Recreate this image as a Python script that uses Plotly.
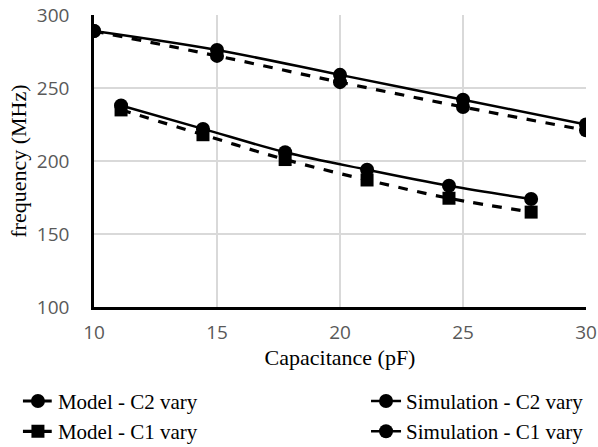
import plotly.graph_objects as go

c2_x = [10, 15, 20, 25, 30]
model_c2 = [289, 272, 254, 237, 221]
sim_c2 = [289, 276, 259, 242, 225]

c1_x = [11.1, 14.43, 17.77, 21.1, 24.43, 27.77]
model_c1 = [235, 218, 201, 187, 174.5, 165]
sim_c1 = [238, 222, 206, 194, 183, 174]

x_ticks = [10, 15, 20, 25, 30]
y_ticks = [100, 150, 200, 250, 300]

serif = "Liberation Serif"
sans = "Open Sans"

fig = go.Figure()
fig.add_trace(go.Scatter(x=c2_x, y=model_c2, name="Model - C2 vary", mode="lines+markers",
                         line=dict(color="black", width=3.2, dash="dash", shape="spline"),
                         marker=dict(symbol="circle", size=14, color="black"), legend="legend"))
fig.add_trace(go.Scatter(x=c1_x, y=model_c1, name="Model - C1 vary", mode="lines+markers",
                         line=dict(color="black", width=3.2, dash="dash", shape="spline"),
                         marker=dict(symbol="square", size=13, color="black"), legend="legend"))
fig.add_trace(go.Scatter(x=c2_x, y=sim_c2, name="Simulation - C2 vary", mode="lines+markers",
                         line=dict(color="black", width=2.5, shape="spline"),
                         marker=dict(symbol="circle", size=14, color="black"), legend="legend2"))
fig.add_trace(go.Scatter(x=c1_x, y=sim_c1, name="Simulation - C1 vary", mode="lines+markers",
                         line=dict(color="black", width=2.5, shape="spline"),
                         marker=dict(symbol="circle", size=14, color="black"), legend="legend2"))

fig.update_layout(
    width=598, height=447,
    margin=dict(l=94, r=12, t=15, b=140, autoexpand=False),
    plot_bgcolor="white", paper_bgcolor="white",
    xaxis=dict(range=[10, 30], tickvals=x_ticks, showgrid=True, gridcolor="#d9d9d9", gridwidth=1.5,
               showline=True, linecolor="black", linewidth=2.5, zeroline=False,
               tickfont=dict(family=sans, size=19, color="#595959"),
               ticks="outside", ticklen=6, tickcolor="white",
               title=dict(text="Capacitance (pF)", font=dict(family=serif, size=22, color="black"), standoff=6)),
    yaxis=dict(range=[100, 300], tickvals=y_ticks, showgrid=True, gridcolor="#d9d9d9", gridwidth=1.5,
               showline=True, linecolor="black", linewidth=2.5, zeroline=False,
               tickfont=dict(family=sans, size=19, color="#595959"),
               ticks="outside", ticklen=18, tickcolor="white"),
    annotations=[dict(text="frequency (MHz)", textangle=-90, xref="paper", yref="paper",
                      x=-0.155, y=0.5, xanchor="center", yanchor="middle", showarrow=False,
                      font=dict(family=serif, size=22, color="black"))],
    legend=dict(xref="container", yref="container", x=0.03, y=0.148, xanchor="left", yanchor="top",
                orientation="v", font=dict(family=serif, size=21, color="black"), tracegroupgap=0,
                bgcolor="rgba(0,0,0,0)"),
    legend2=dict(xref="container", yref="container", x=0.985, y=0.148, xanchor="right", yanchor="top",
                 orientation="v", font=dict(family=serif, size=21, color="black"), tracegroupgap=0,
                 bgcolor="rgba(0,0,0,0)"),
)
fig.write_html("out.html")
